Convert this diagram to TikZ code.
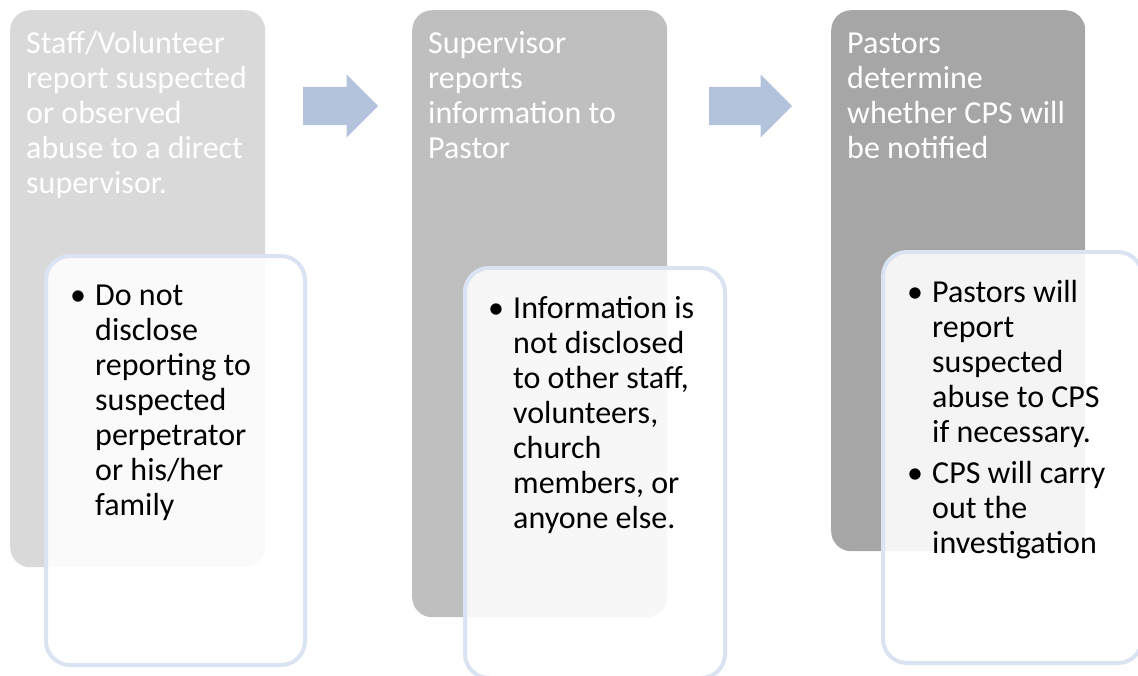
\documentclass[tikz,border=0pt]{standalone}
\usepackage{fontspec}
\setmainfont{Carlito}
\usetikzlibrary{shapes.arrows}

\definecolor{grayA}{HTML}{D9D9D9}
\definecolor{grayB}{HTML}{BFBFBF}
\definecolor{grayC}{HTML}{A6A6A6}
\definecolor{arrowblue}{HTML}{B4C3DC}
\definecolor{edgeblue}{HTML}{DAE3F2}

\tikzset{
  stage/.style={rounded corners=20pt, inner sep=0pt, anchor=north west},
  detail/.style={draw=edgeblue, line width=4pt, fill=white, fill opacity=0.88,
    draw opacity=1, rounded corners=24pt, inner sep=0pt, anchor=north west},
  title/.style={anchor=base west, inner sep=0pt, text=white,
    font=\fontsize{32}{35}\selectfont},
  bullets/.style={anchor=base west, inner sep=0pt, text=black,
    font=\fontsize{32}{35}\selectfont},
  flow/.style={single arrow, fill=arrowblue, inner xsep=0pt, inner ysep=19pt,
    single arrow head extend=12.5pt, anchor=west}
}
\newcommand{\bul}{\makebox[25pt][l]{\textbullet}}

\begin{document}
\begin{tikzpicture}[x=1pt, y=-1pt]
        \useasboundingbox (0,0) rectangle (1138,675);

        % gray stages
        \node[stage, fill=grayA, minimum width=255pt, minimum height=557pt] (stageA) at (10,10) {};
        \node[stage, fill=grayB, minimum width=255pt, minimum height=607pt] (stageB) at (412,10) {};
        \node[stage, fill=grayC, minimum width=254pt, minimum height=541pt] (stageC) at (831,10) {};

        % arrows between stages
        \node[flow, minimum height=75pt] (arrowAB) at (303,106) {};
        \node[flow, minimum height=83pt] (arrowBC) at (709,106) {};

        % detail boxes
        \node[detail, minimum width=259pt, minimum height=409pt] (detailA) at (44,254) {};
        \node[detail, minimum width=260pt, minimum height=410pt] (detailB) at (463,266) {};
        \node[detail, minimum width=259pt, minimum height=411pt] (detailC) at (881,250) {};

        % stage titles
        \node[title] (titleA) at (26,53) {\begin{tabular}[t]{@{}l@{}}Staff/Volunteer\\report suspected\\or observed\\abuse to a direct\\supervisor.\end{tabular}};
        \node[title] (titleB) at (428,53) {\begin{tabular}[t]{@{}l@{}}Supervisor\\reports\\information to\\Pastor\end{tabular}};
        \node[title] (titleC) at (847,53) {\begin{tabular}[t]{@{}l@{}}Pastors\\determine\\whether CPS will\\be notified\end{tabular}};

        % bullet texts
        \node[bullets] (textA) at (70,305) {\begin{tabular}[t]{@{}l@{}l@{}}\bul & Do not\\ & disclose\\ & reporting to\\ & suspected\\ & perpetrator\\ & or his/her\\ & family\end{tabular}};
        \node[bullets] (textB) at (488,318) {\begin{tabular}[t]{@{}l@{}l@{}}\bul & Information is\\ & not disclosed\\ & to other staff,\\ & volunteers,\\ & church\\ & members, or\\ & anyone else.\end{tabular}};
        \node[bullets] (textC) at (907,302) {\begin{tabular}[t]{@{}l@{}l@{}}\bul & Pastors will\\ & report\\ & suspected\\ & abuse to CPS\\ & if necessary.\\[6pt] \bul & CPS will carry\\ & out the\\ & investigation\end{tabular}};

        \end{tikzpicture}
\end{document}
